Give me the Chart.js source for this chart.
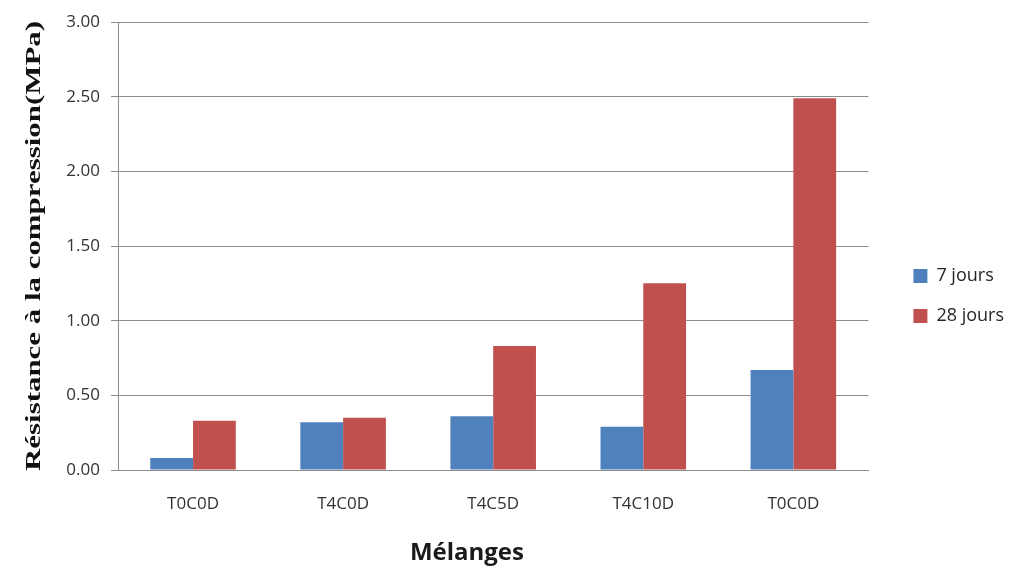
<!DOCTYPE html>
<html lang="fr">
<head>
<meta charset="UTF-8">
<title>Résistance à la compression</title>
<script src="https://cdn.jsdelivr.net/npm/chart.js"></script>
<style>
    html, body { margin: 0; padding: 0; background: #fff; }
    #wrap { width: 1014px; height: 570px; }
</style>
</head>
<body>
<div id="wrap"><canvas id="chart" width="1014" height="570"></canvas></div>
<script>
    // données
    const categories = ['T0C0D', 'T4C0D', 'T4C5D', 'T4C10D', 'T0C0D'];
    const jours7 = [0.08, 0.32, 0.36, 0.29, 0.67];
    const jours28 = [0.33, 0.35, 0.83, 1.25, 2.49];
    const seriesNames = ['7 jours', '28 jours'];
    const yTitleText = 'Résistance à la compression(MPa)';
    const xTitleText = 'Mélanges';

    // titres des axes dessinés à la main (l'original est étiré)
    const axisTitles = {
        id: 'axisTitles',
        afterDraw(chart) {
            const a = chart.chartArea;
            const c = chart.ctx;
            c.save();
            c.fillStyle = '#1a1a1a';
            c.textAlign = 'center';
            c.textBaseline = 'middle';
            c.font = 'bold 24px "Open Sans"';
            c.fillText(xTitleText, a.left + a.width * 0.465, a.bottom + 83);

            c.fillStyle = '#111';
            c.font = 'bold 21px "Liberation Serif"';
            const w = c.measureText(yTitleText).width;
            const k = (a.height + 2) / w;
            c.translate(35, (a.top + a.bottom) / 2);
            c.rotate(-Math.PI / 2);
            c.scale(k, 1);
            c.fillText(yTitleText, 0, 0);
            c.restore();
        }
    };

    new Chart(document.getElementById('chart'), {
        type: 'bar',
        data: {
            labels: categories,
            datasets: [
                { label: seriesNames[0], data: jours7, backgroundColor: '#4f81bd' },
                { label: seriesNames[1], data: jours28, backgroundColor: '#c0504d' }
            ]
        },
        plugins: [axisTitles],
        options: {
            responsive: false,
            animation: false,
            layout: { padding: { top: 22, left: 0, right: 0, bottom: 0 } },
            datasets: {
                bar: { categoryPercentage: 0.57, barPercentage: 1.0 }
            },
            plugins: {
                tooltip: { enabled: false },
                legend: {
                    position: 'right',
                    labels: {
                        boxWidth: 14,
                        boxHeight: 14,
                        padding: 22,
                        color: '#262626',
                        font: { family: 'Open Sans', size: 18 }
                    }
                }
            },
            scales: {
                x: {
                    afterFit: s => { s.height = 100; },
                    grid: { display: false },
                    border: { color: '#8c8c8c', width: 1 },
                    ticks: {
                        color: '#333',
                        padding: 16,
                        font: { family: 'Open Sans', size: 17 }
                    }
                },
                y: {
                    min: 0,
                    max: 3,
                    afterFit: s => { s.width = 118; },
                    grid: { color: '#8c8c8c', lineWidth: 1, tickLength: 7 },
                    border: { color: '#8c8c8c', width: 1 },
                    ticks: {
                        stepSize: 0.5,
                        color: '#333',
                        padding: 11,
                        font: { family: 'Open Sans', size: 17 },
                        callback: v => v.toFixed(2)
                    }
                },
                // axe vide à droite, sert seulement à laisser de la place avant la légende
                yPad: {
                    position: 'right',
                    afterFit: s => { s.width = 23; },
                    grid: { display: false },
                    border: { display: false },
                    ticks: { display: false }
                }
            }
        }
    });
</script>
</body>
</html>
